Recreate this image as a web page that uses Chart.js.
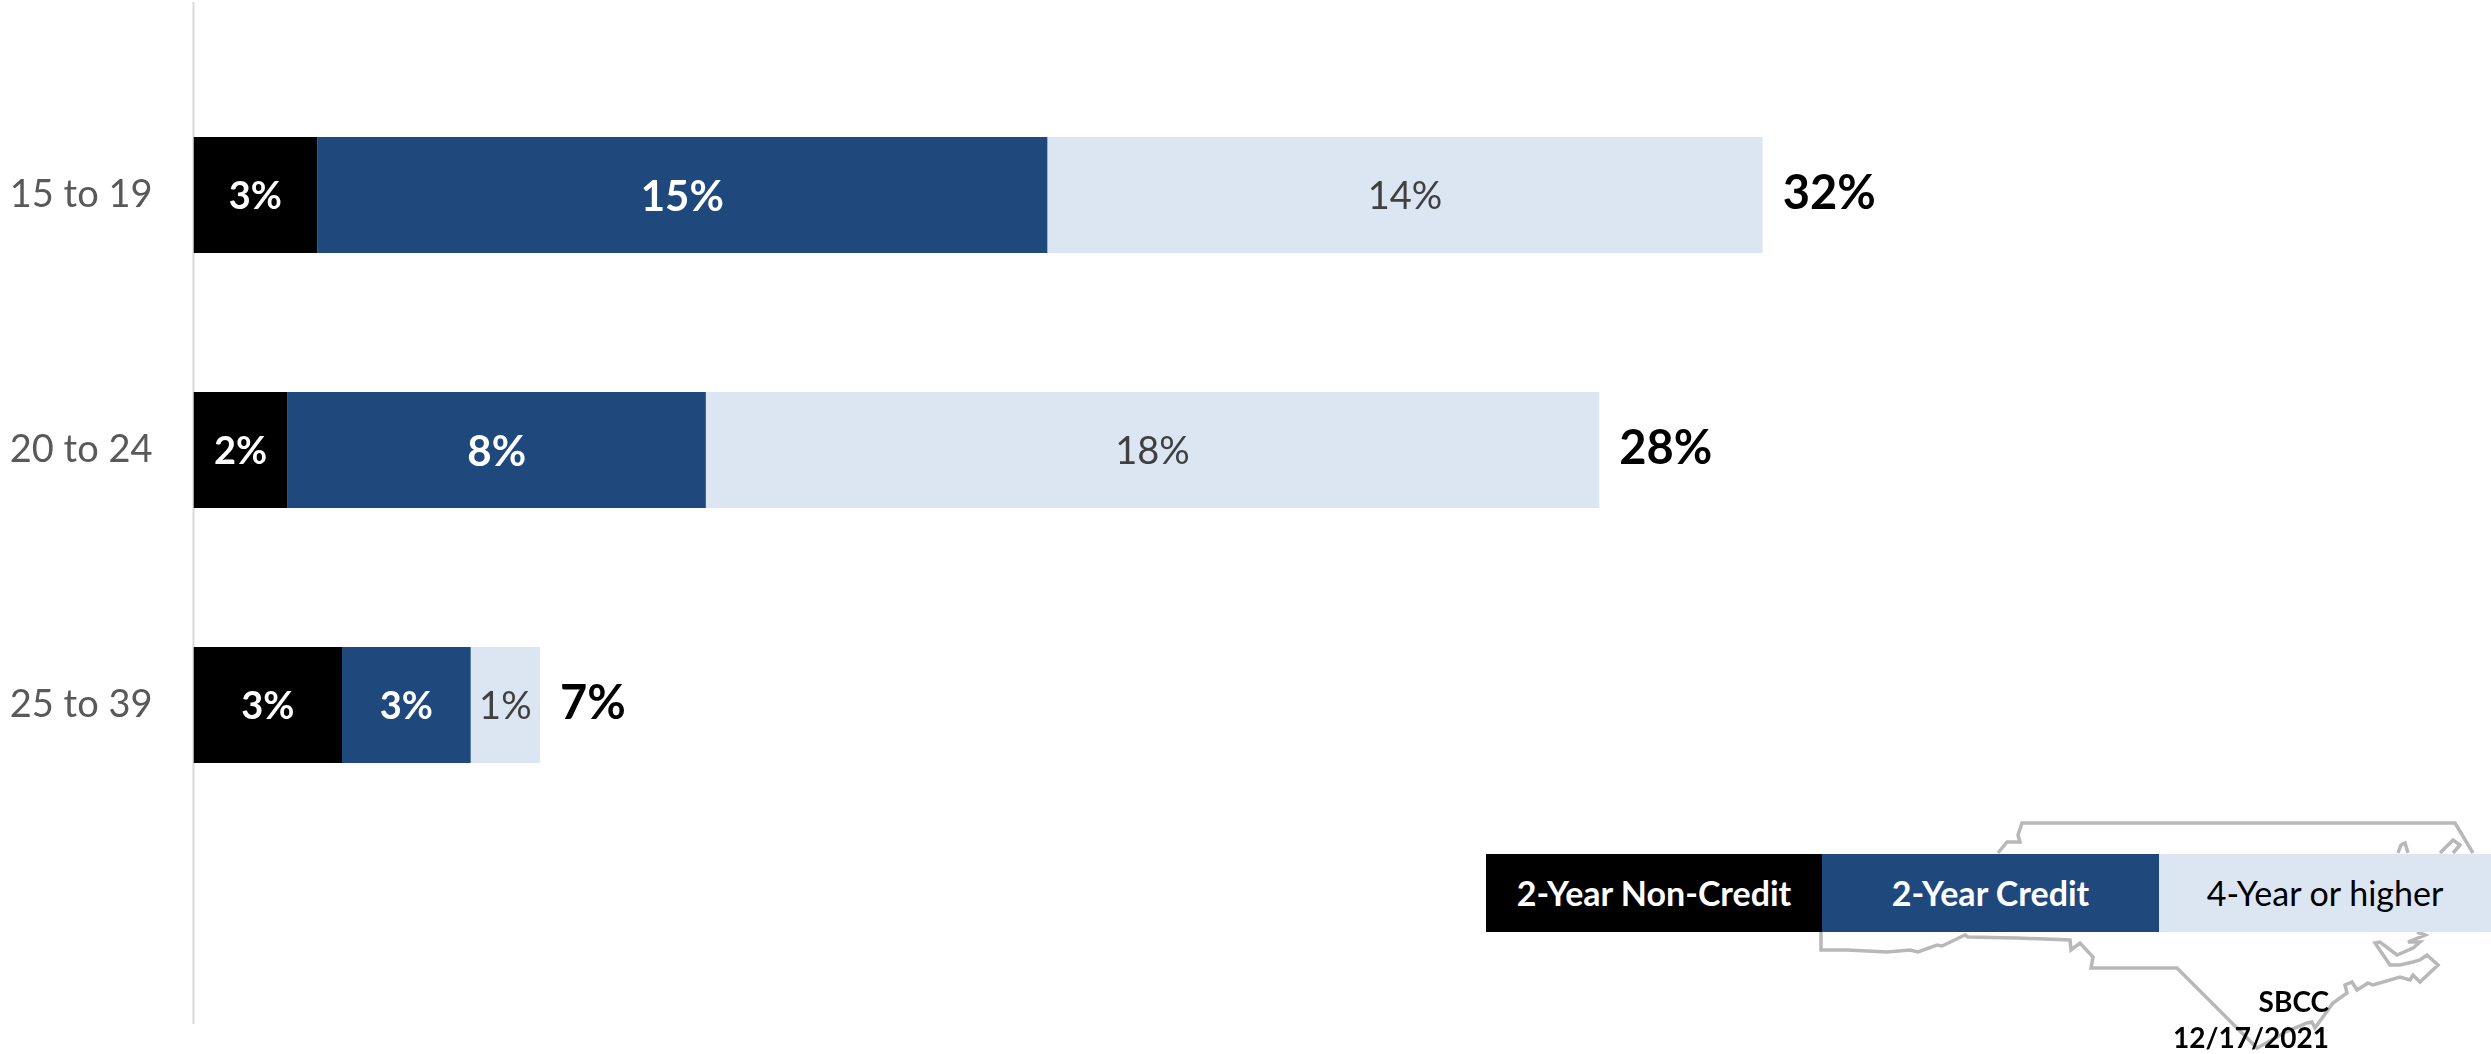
<!DOCTYPE html>
<html>
<head>
<meta charset="utf-8">
<title>Enrollment by age</title>
<script src="https://cdn.jsdelivr.net/npm/chart.js@4"></script>
<style>
    html, body { margin: 0; padding: 0; background: #fff; overflow: hidden; }
    #wrap { position: relative; width: 2491px; height: 1054px; font-family: Lato, sans-serif; }
    #myChart { position: absolute; left: 0; top: 0; }
    #ncMap { position: absolute; left: 0; top: 0; }
    #legend { position: absolute; left: 1486px; top: 854px; width: 1005px; height: 78px; display: flex; }
    #legend div { height: 78px; line-height: 78px; text-align: center; font-size: 34px; white-space: nowrap; }
    .stamp { position: absolute; right: 162px; font-weight: bold; font-size: 28px; color: #000; line-height: 32px; }
</style>
</head>
<body>
<div id="wrap">
    <svg id="ncMap" width="2491" height="1054"></svg>
    <canvas id="myChart" width="2491" height="1054"></canvas>
    <div id="legend"></div>
    <div class="stamp" style="top:985px">SBCC</div>
    <div class="stamp" style="top:1021px">12/17/2021</div>
</div>
<script>
const ageGroups = ['15 to 19', '20 to 24', '25 to 39'];
const seriesNames = ['2-Year Non-Credit', '2-Year Credit', '4-Year or higher'];
const nonCredit = [2.5, 1.9, 3.0];
const credit = [14.75, 8.45, 2.6];
const fourYear = [14.45, 18.05, 1.4];
const totals = [32, 28, 7];

const seriesColors = ['#000000', '#1F497D', '#DCE6F2'];
const textColors = ['#ffffff', '#ffffff', '#404040'];

// state outline behind the legend, only decoration
const mapLines = [
    'M1998 853 L2007 842 L2020 842 L2018 835 L2022 823 L2455 823 L2473 853',
    'M2398 853 L2401 845 L2405 843 L2408 853',
    'M2440 853 L2453 840 L2460 845 L2453 853',
    'M1821 932 L1821 950 L1847 950 L1887 952 L1910 950 L1918 952 L1937 945 L1942 946 L1965 935 L1968 937 ' +
    'L2017 938 L2070 940 L2071 950 L2080 943 L2093 957 L2091 968 L2177 968 L2210 1001 L2257 1048 L2286 1032 ' +
    'L2307 1023 L2312 1022 L2315 1028 L2333 1003 L2347 993 L2345 985 L2352 982 L2357 990 L2368 983 L2373 985 ' +
    'L2400 977 L2410 980 L2413 975 L2420 982 L2438 965 L2427 955 L2420 960 L2413 962 L2400 965 L2390 965 ' +
    'L2375 943 L2380 942 L2397 955 L2413 948 L2420 942 L2408 942 L2425 935 L2417 932'
];

document.addEventListener('DOMContentLoaded', registerEvents);

function registerEvents() {
    drawMap();
    createLegend();
    createChart();
}

function drawMap() {
    let svg = document.getElementById('ncMap');
    mapLines.forEach(d => {
        let path = document.createElementNS('http://www.w3.org/2000/svg', 'path');
        path.setAttribute('d', d);
        path.setAttribute('fill', 'none');
        path.setAttribute('stroke', '#b8b8b8');
        path.setAttribute('stroke-width', '3.5');
        svg.appendChild(path);
    });
}

function createLegend() {
    let legend = document.getElementById('legend');
    let widths = [336, 337, 332];
    seriesNames.forEach((name, i) => {
        let cell = document.createElement('div');
        cell.innerText = name;
        cell.style.width = widths[i] + 'px';
        cell.style.background = seriesColors[i];
        cell.style.color = i == 2 ? '#000' : '#fff';
        cell.style.fontWeight = i == 2 ? 'normal' : 'bold';
        legend.appendChild(cell);
    });
}

// axis line runs past the category bands in the original
const axisLine = {
    id: 'axisLine',
    beforeDatasetsDraw(chart) {
        let ctx = chart.ctx;
        let x = chart.scales.x.getPixelForValue(0);
        ctx.save();
        ctx.strokeStyle = '#d9d9d9';
        ctx.lineWidth = 2;
        ctx.beginPath();
        ctx.moveTo(x, 2);
        ctx.lineTo(x, 1024);
        ctx.stroke();
        ctx.restore();
    }
};

const barLabels = {
    id: 'barLabels',
    afterDatasetsDraw(chart) {
        let ctx = chart.ctx;
        ctx.save();
        ctx.textBaseline = 'middle';
        chart.data.datasets.forEach((ds, i) => {
            chart.getDatasetMeta(i).data.forEach((bar, j) => {
                let label = Math.round(ds.data[j]) + '%';
                let big = label == '15%' || label == '8%';
                ctx.font = (i == 2 ? 'normal ' : 'bold ') + (big ? 42 : 38) + 'px Lato';
                ctx.fillStyle = textColors[i];
                ctx.textAlign = 'center';
                ctx.fillText(label, (bar.base + bar.x) / 2, bar.y + 2);
            });
        });
        // totals at the end of each stack
        let last = chart.getDatasetMeta(2).data;
        ctx.font = 'bold 47px Lato';
        ctx.fillStyle = '#000';
        ctx.textAlign = 'left';
        totals.forEach((t, j) => {
            ctx.fillText(t + '%', last[j].x + 20, last[j].y - 1);
        });
        ctx.restore();
    }
};

function createChart() {
    let ctx = document.getElementById('myChart');
    let datasets = [nonCredit, credit, fourYear].map((values, i) => ({
        label: seriesNames[i],
        data: values,
        backgroundColor: seriesColors[i],
        borderWidth: 0,
        categoryPercentage: 1,
        barPercentage: 0.455
    }));

    new Chart(ctx, {
        type: 'bar',
        data: { labels: ageGroups, datasets: datasets },
        plugins: [axisLine, barLabels],
        options: {
            indexAxis: 'y',
            responsive: false,
            animation: false,
            devicePixelRatio: 1,
            layout: { padding: { left: 0, right: 317.5, top: 67.5, bottom: 221.5 } },
            plugins: {
                legend: { display: false },
                tooltip: { enabled: false },
                title: { display: false }
            },
            scales: {
                x: {
                    stacked: true,
                    display: false,
                    min: 0,
                    max: 40
                },
                y: {
                    stacked: true,
                    afterFit(scale) { scale.width = 193.5; },
                    border: { display: false },
                    grid: { display: false, drawTicks: false },
                    ticks: {
                        padding: 41,
                        color: '#595959',
                        font: { family: 'Lato', size: 38 }
                    }
                }
            }
        }
    });
}
</script>
</body>
</html>
